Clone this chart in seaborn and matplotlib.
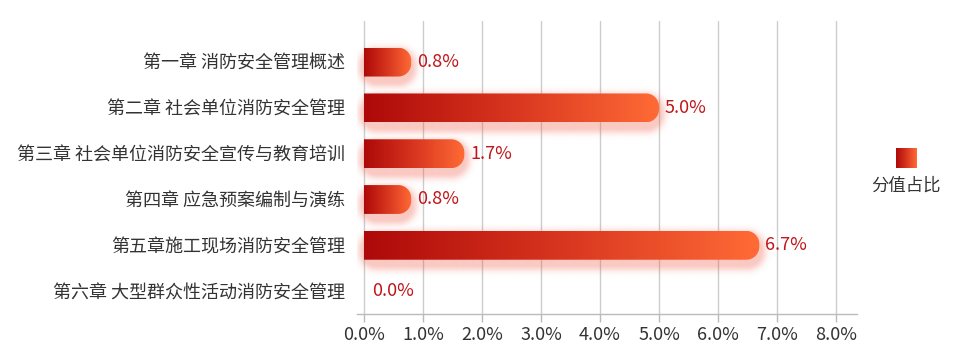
import numpy as np
import matplotlib
matplotlib.use("Agg")
import matplotlib.pyplot as plt
import seaborn as sns
import pandas as pd
from matplotlib.path import Path
from matplotlib.patches import PathPatch
from matplotlib.colors import LinearSegmentedColormap

# Score share per chapter (%)
chapters = [
    "第一章 消防安全管理概述",
    "第二章 社会单位消防安全管理",
    "第三章 社会单位消防安全宣传与教育培训",
    "第四章 应急预案编制与演练",
    "第五章施工现场消防安全管理",
    "第六章 大型群众性活动消防安全管理",
]
shares = [0.8, 5.0, 1.7, 0.8, 6.7, 0.0]
x_ticks = [0, 1, 2, 3, 4, 5, 6, 7, 8]
legend_label = "分值占比"

sns.set_theme(style="white")
plt.rcParams["font.family"] = ["Noto Sans CJK SC", "DejaVu Sans"]

W, H = 954, 364
fig = plt.figure(figsize=(W / 100, H / 100), dpi=100)
ax_l, ax_b, ax_w, ax_h = 357, 50, 500, 293
ax = fig.add_axes([ax_l / W, ax_b / H, ax_w / W, ax_h / H])

grad = LinearSegmentedColormap.from_list("fire", ["#ad0909", "#d8361f", "#ff6b36"])

df = pd.DataFrame({"chapter": chapters, "share": shares})
sns.barplot(data=df, x="share", y="chapter", orient="h", width=0.63,
            color="#c0161a", ax=ax)

# axis ranges: px per unit
px_x = 59.0
px_y = 45.8
xmin = -7 / px_x
xmax = xmin + ax_w / px_x
ybot = 5.5
ytop = ybot - ax_h / px_y

# soft glow under bars, computed on the axes pixel grid
gx, gy = np.meshgrid(np.arange(ax_w) + 0.5, np.arange(ax_h) + 0.5)
glow = np.zeros((ax_h, ax_w))
r_px = 13.0
sigma = 4.5
bars = []
for patch in ax.patches:
    x0, w = patch.get_x(), patch.get_width()
    y0, h = patch.get_y(), patch.get_height()
    patch.set_visible(False)
    if w <= 0:
        continue
    bars.append((x0, w, y0, h))
    left = (x0 - xmin) * px_x
    right = (x0 + w - xmin) * px_x
    top = (y0 - ytop) * px_y + 5
    bottom = (y0 + h - ytop) * px_y + 5
    cx, cy = (left + right) / 2, (top + bottom) / 2
    hx, hy = (right - left) / 2, (bottom - top) / 2
    qx = np.abs(gx - cx) - (hx - r_px)
    qy = np.abs(gy - cy) - (hy - r_px)
    d = np.hypot(np.maximum(qx, 0), np.maximum(qy, 0)) + np.minimum(np.maximum(qx, qy), 0) - r_px
    a = 0.32 * np.exp(-np.maximum(d, 0) ** 2 / (2 * sigma ** 2))
    glow = np.maximum(glow, a)

rgba = np.zeros((ax_h, ax_w, 4))
rgba[..., 0] = 240 / 255
rgba[..., 1] = 85 / 255
rgba[..., 2] = 65 / 255
rgba[..., 3] = glow
ax.imshow(rgba, extent=(xmin, xmax, ybot, ytop), aspect="auto",
          origin="upper", zorder=2, interpolation="bilinear")

# gradient bars with rounded right ends
ramp = np.linspace(0, 1, 256).reshape(1, -1)
for x0, w, y0, h in bars:
    x1, y1 = x0 + w, y0 + h
    rx = min(r_px / px_x, w)
    ry = min(r_px / px_y, h / 2)
    t = np.linspace(0, np.pi / 2, 20)
    verts = [(x0, y0), (x1 - rx, y0)]
    verts += [(x1 - rx + rx * np.sin(a), y0 + ry - ry * np.cos(a)) for a in t]
    verts += [(x1, y1 - ry)]
    verts += [(x1 - rx + rx * np.cos(a), y1 - ry + ry * np.sin(a)) for a in t]
    verts += [(x0, y1), (x0, y0)]
    codes = [Path.MOVETO] + [Path.LINETO] * (len(verts) - 2) + [Path.CLOSEPOLY]
    clip = PathPatch(Path(verts, codes), transform=ax.transData,
                     facecolor="none", edgecolor="none")
    ax.add_patch(clip)
    im = ax.imshow(ramp, cmap=grad, extent=(x0, x1, y1, y0), aspect="auto",
                   zorder=3, interpolation="bilinear")
    im.set_clip_path(clip)

# value labels
for i, v in enumerate(shares):
    off = 6 / px_x if v > 0 else 8 / px_x
    ax.text(v + off, i, f"{v:.1f}%", ha="left", va="center",
            color="#c0161a", fontsize=13, zorder=4)

ax.set_xlim(xmin, xmax)
ax.set_ylim(ybot, ytop)
ax.set_xticks(x_ticks)
ax.set_xticklabels([f"{v:.1f}%" for v in x_ticks])
ax.set_xlabel("")
ax.set_ylabel("")
ax.xaxis.grid(True, color="#cccccc", linewidth=1)
ax.yaxis.grid(False)
ax.set_axisbelow(True)
for side in ["top", "right", "left"]:
    ax.spines[side].set_visible(False)
ax.spines["bottom"].set_color("#bbbbbb")
ax.spines["bottom"].set_linewidth(1)
ax.tick_params(axis="x", bottom=True, length=6, width=1, color="#bbbbbb",
               labelsize=13, labelcolor="#333333", pad=3)
ax.tick_params(axis="y", left=False, length=0, labelsize=13,
               labelcolor="#333333", pad=8.5)

# legend swatch
lax = fig.add_axes([896 / W, (H - 168) / H, 20 / W, 20 / H])
lax.imshow(ramp, cmap=grad, aspect="auto", interpolation="bilinear")
lax.axis("off")
fig.text(906 / W, (H - 186) / H, legend_label, ha="center", va="center",
         fontsize=12.5, color="#333333")

fig.savefig("out.png", dpi=100)
